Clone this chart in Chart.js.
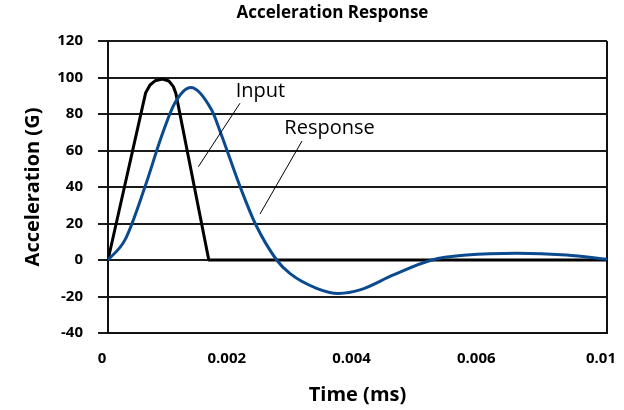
<!DOCTYPE html>
<html>
<head>
<meta charset="utf-8">
<script src="https://cdn.jsdelivr.net/npm/chart.js@4"></script>
<style>
  body { margin: 0; background: #fff; }
  #wrap { width: 624px; height: 410px; }
</style>
</head>
<body>
<div id="wrap"><canvas id="grafico" width="624" height="410"></canvas></div>
<script>
// Dados
const inputTime = [0, 0.000755, 0.000842, 0.000942, 0.00109, 0.00122, 0.00131, 0.00136, 0.00202, 0.01];
const inputAccel = [0, 91.7, 95.9, 98.2, 99.2, 98.1, 95, 91.3, 0, 0];

const responseTime = [0, 0.00034, 0.00074, 0.00107, 0.00134, 0.00166, 0.00208, 0.00224, 0.00265, 0.00295,
  0.00338, 0.00365, 0.00418, 0.00462, 0.00505, 0.00572, 0.00649, 0.00719, 0.00819, 0.00919, 0.01];
const responseAccel = [0, 11, 40, 67.5, 86, 94.5, 82, 71, 40, 20,
  0, -7.5, -15.5, -18.3, -16.4, -8.2, 0, 2.7, 3.7, 2.7, 0.4];

const xTickValues = [0, 0.0025, 0.005, 0.0075, 0.01];
const xTickLabels = ['0', '0.002', '0.004', '0.006', '0.01'];
const yTickValues = [-40, -20, 0, 20, 40, 60, 80, 100, 120];

// Rótulos com linha de chamada (coordenadas em unidades dos dados)
const callouts = [
  { text: 'Input', textAt: [0.003056, 89.3], from: [0.002645, 85.9], to: [0.00181, 51.1] },
  { text: 'Response', textAt: [0.00444, 69], from: [0.003888, 65.2], to: [0.003046, 25.2] }
];

const FONT = "'Open Sans', 'Noto Sans', sans-serif";
const toPoints = (xs, ys) => xs.map((x, i) => ({ x: x, y: ys[i] }));

// ================== PLUGINS ==================
const tituloPlugin = {
  id: 'titulo',
  afterDraw(chart) {
    const { ctx, chartArea } = chart;
    ctx.save();
    ctx.font = 'bold 17px ' + FONT;
    ctx.fillStyle = '#000';
    ctx.textAlign = 'center';
    ctx.textBaseline = 'middle';
    ctx.fillText('Acceleration Response', (chartArea.left + chartArea.right) / 2 - 25, 13);
    ctx.restore();
  }
};

const chamadasPlugin = {
  id: 'chamadas',
  afterDatasetsDraw(chart) {
    const { ctx, scales: { x, y } } = chart;
    ctx.save();
    callouts.forEach(c => {
      ctx.strokeStyle = '#000';
      ctx.lineWidth = 1;
      ctx.beginPath();
      ctx.moveTo(x.getPixelForValue(c.from[0]), y.getPixelForValue(c.from[1]));
      ctx.lineTo(x.getPixelForValue(c.to[0]), y.getPixelForValue(c.to[1]));
      ctx.stroke();
      ctx.font = '20px ' + FONT;
      ctx.fillStyle = '#000';
      ctx.textAlign = 'center';
      ctx.textBaseline = 'alphabetic';
      ctx.fillText(c.text, x.getPixelForValue(c.textAt[0]), y.getPixelForValue(c.textAt[1]));
    });
    ctx.restore();
  }
};

// ================== GRÁFICO ==================
new Chart(document.getElementById('grafico'), {
  type: 'line',
  data: {
    datasets: [
      {
        label: 'Response',
        data: toPoints(responseTime, responseAccel),
        borderColor: '#0b4a8f',
        borderWidth: 3,
        pointRadius: 0,
        cubicInterpolationMode: 'monotone',
        order: 0
      },
      {
        label: 'Input',
        data: toPoints(inputTime, inputAccel),
        borderColor: '#000',
        borderWidth: 3,
        pointRadius: 0,
        tension: 0,
        borderJoinStyle: 'round',
        order: 1
      }
    ]
  },
  options: {
    responsive: false,
    animation: false,
    layout: { padding: { top: 41, right: 17, left: 0, bottom: 0 } },
    plugins: {
      legend: { display: false },
      tooltip: { enabled: false }
    },
    scales: {
      x: {
        type: 'linear',
        min: 0,
        max: 0.01,
        afterBuildTicks: s => { s.ticks = xTickValues.map(v => ({ value: v })); },
        afterFit: s => { s.height = 77; },
        ticks: {
          callback: (v, i) => xTickLabels[i],
          color: '#000',
          font: { family: FONT, size: 15, weight: 'bold' },
          padding: 0,
          labelOffset: -6,
          maxRotation: 0
        },
        grid: {
          drawTicks: true,
          tickLength: 17,
          tickColor: 'rgba(0,0,0,0)',
          color: c => c.index === xTickValues.length - 1 ? '#111' : 'rgba(0,0,0,0)',
          lineWidth: 2
        },
        border: { color: '#111', width: 2 },
        title: {
          display: true,
          text: 'Time (ms)',
          color: '#000',
          font: { family: FONT, size: 20, weight: 'bold' },
          padding: { top: 0, bottom: 3 }
        }
      },
      y: {
        min: -40,
        max: 120,
        afterBuildTicks: s => { s.ticks = yTickValues.map(v => ({ value: v })); },
        afterFit: s => { s.width = 108; },
        ticks: {
          color: '#000',
          font: { family: FONT, size: 15, weight: 'bold' },
          padding: 15
        },
        grid: {
          color: '#1a1a1a',
          lineWidth: 2,
          drawTicks: true,
          tickLength: 10
        },
        border: { color: '#111', width: 2 },
        title: {
          display: true,
          text: 'Acceleration (G)',
          color: '#000',
          font: { family: FONT, size: 20, weight: 'bold' },
          padding: { top: 21, bottom: 0 }
        }
      }
    }
  },
  plugins: [tituloPlugin, chamadasPlugin]
});
</script>
</body>
</html>
